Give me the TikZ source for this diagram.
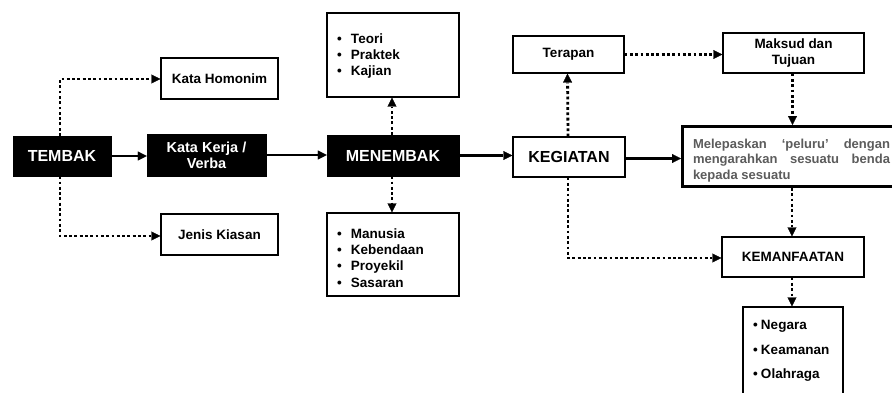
\documentclass[tikz,border=0pt]{standalone}
\usepackage{fontspec}
\setmainfont{Liberation Sans}
\usetikzlibrary{arrows.meta}
\definecolor{bodygray}{rgb}{0.36,0.36,0.36}
\newcommand{\bitem}[1]{\makebox[14pt][l]{\textbullet}#1}
\newcommand{\nitem}[1]{\makebox[8pt][l]{\textbullet}#1}
\tikzset{
  darkbox/.style={fill=black, draw=black, text=white, font=\fontsize{16}{18}\selectfont\bfseries, inner sep=0pt, align=center},
  lightbox/.style={fill=white, draw=black, line width=1.2pt, font=\fontsize{13.5}{16}\selectfont\bfseries, inner sep=0pt, align=center},
  listbox/.style={fill=white, draw=black, line width=1.2pt, font=\fontsize{13.5}{16.3}\selectfont\bfseries, inner xsep=10pt, inner ysep=0pt, align=left},
  solidarrow/.style={line width=2.2pt, -{Triangle[length=9pt,width=9pt,line width=0.3pt]}},
  dotarrow/.style={line width=2.8pt, dash pattern=on 2.8pt off 2.5pt, -{Triangle[length=9pt,width=9pt,line width=0.3pt]}},
}
\begin{document}
\begin{tikzpicture}[x=1pt, y=-1pt]
\path[use as bounding box, clip] (0,0) rectangle (892,392);
\fill[white] (0,0) rectangle (892,392);

% main chain
\node[darkbox, minimum width=98pt, minimum height=40pt] (tembak) at (62,156) {TEMBAK};
\node[darkbox, minimum width=119pt, minimum height=42pt, font=\fontsize{14.5}{16}\selectfont\bfseries] (verba) at (206.5,155) {Kata Kerja /\\Verba};
\node[darkbox, minimum width=132pt, minimum height=41pt] (menembak) at (393,155.5) {MENEMBAK};
\node[lightbox, minimum width=112pt, minimum height=40pt, font=\fontsize{16}{18}\selectfont\bfseries] (kegiatan) at (569,157) {KEGIATAN};

% branches of TEMBAK
\node[lightbox, minimum width=117pt, minimum height=41pt] (homonim) at (219.5,78.5) {Kata Homonim};
\node[lightbox, minimum width=117pt, minimum height=41pt] (kiasan) at (219.5,234.5) {Jenis Kiasan};

% branches of MENEMBAK
\node[listbox, text width=112pt, minimum height=84pt] (teori) at (393,55) {};
\node[font=\fontsize{13.5}{16.3}\selectfont\bfseries, text width=112pt, align=left, inner sep=0pt] (teoritext) at (393,56)
  {\bitem{Teori}\\\bitem{Praktek}\\\bitem{Kajian}};
\node[listbox, text width=112pt, minimum height=83pt] (objek) at (393,254.5) {};
\node[font=\fontsize{13.5}{16.3}\selectfont\bfseries, text width=112pt, align=left, inner sep=0pt] (objektext) at (393,258)
  {\bitem{Manusia}\\\bitem{Kebendaan}\\\bitem{Proyekil}\\\bitem{Sasaran}};

% branches of KEGIATAN
\node[lightbox, minimum width=111pt, minimum height=37pt] (terapan) at (568.5,54.5) {Terapan};
\node[lightbox, minimum width=141pt, minimum height=40pt] (maksud) at (793.5,53) {Maksud dan\\Tujuan};
\node[draw=black, fill=white, line width=3pt, anchor=north west, minimum width=230pt, minimum height=60pt] (lepas) at (681,125) {};
\node[text width=197pt, inner sep=0pt, align=justify, text=bodygray, font=\fontsize{13}{15.5}\selectfont\bfseries] (lepastext) at (791.5,160.5)
  {Melepaskan ‘peluru’ dengan\linebreak mengarahkan sesuatu benda\linebreak kepada sesuatu};
\node[lightbox, minimum width=142pt, minimum height=40pt] (manfaat) at (793,257) {KEMANFAATAN};
\node[listbox, text width=80pt, minimum height=120pt] (bidang) at (793,367) {};
\node[font=\fontsize{13.5}{24.5}\selectfont\bfseries, text width=80pt, align=left, inner sep=0pt] (bidangtext) at (793,351)
  {\nitem{Negara}\\\nitem{Keamanan}\\\nitem{Olahraga}};

% solid connectors
\draw[solidarrow] (tembak.east) -- (tembak.east -| verba.west);
\draw[solidarrow] (verba.east) -- (verba.east -| menembak.west);
\draw[solidarrow] (menembak.east) -- (menembak.east -| kegiatan.west);
\draw[solidarrow] ([yshift=-1.5pt]kegiatan.east) -- ([yshift=-1.5pt]kegiatan.east -| lepas.west);

% dotted connectors
\draw[dotarrow] ([xshift=-2pt]tembak.north) |- ([yshift=-0.5pt]homonim.west);
\draw[dotarrow] ([xshift=-2pt]tembak.south) |- ([yshift=-1.5pt]kiasan.west);
\draw[dotarrow] ([xshift=-1pt]menembak.north) -- ([xshift=-1pt]teori.south);
\draw[dotarrow] ([xshift=-1pt]menembak.south) -- ([xshift=-1pt]objek.north);
\draw[dotarrow] ([xshift=-1pt]kegiatan.north) -- ([xshift=-1pt]terapan.south);
\draw[dotarrow] ([xshift=-1pt]kegiatan.south) |- ([yshift=-1pt]manfaat.west);
\draw[dotarrow] (terapan.east) -- (terapan.east -| maksud.west);
\draw[dotarrow] ([xshift=-1pt]maksud.south) -- ([xshift=-1pt]maksud.south |- lepas.north);
\draw[dotarrow] ([xshift=-1pt]manfaat.north |- lepas.south) -- ([xshift=-1pt]manfaat.north);
\draw[dotarrow] ([xshift=-1pt]manfaat.south) -- ([xshift=-1pt]bidang.north);
\end{tikzpicture}
\end{document}
